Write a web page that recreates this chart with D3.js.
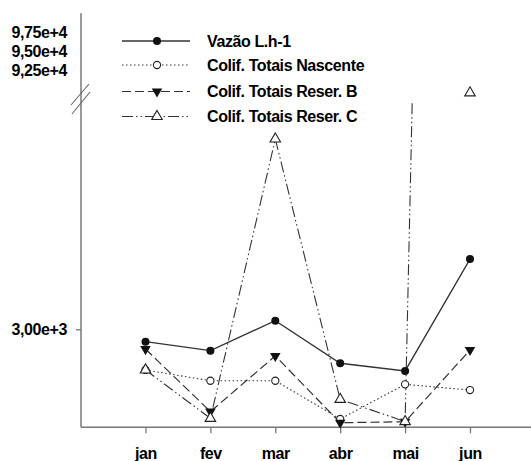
<!DOCTYPE html>
<html>
<head>
<meta charset="utf-8">
<script src="https://cdn.jsdelivr.net/npm/d3@7"></script>
<style>
  html, body { margin: 0; padding: 0; background: #fff; }
  svg text { font-family: "Liberation Sans", Arial, sans-serif; font-weight: bold; fill: #000; letter-spacing: -0.4px; }
</style>
</head>
<body>
<svg id="chart" width="531" height="461"></svg>
<script>
// ---- data ----
const months = ["jan", "fev", "mar", "abr", "mai", "jun"];
const vazao = [2620, 2345, 3265, 1960, 1725, 5150];
const nascente = [1755, 1425, 1425, 255, 1315, 1140];
const reserB = [2395, 480, 2185, 140, 170, 2365];
const reserC = [1755, 275, 8825, 855, 175, 89450];
const lowerTicks = [3000];
const upperTicks = [97500, 95000, 92500];
const seriesNames = ["Vazão L.h-1", "Colif. Totais Nascente", "Colif. Totais Reser. B", "Colif. Totais Reser. C"];

const fmt = v => v.toExponential(2).replace(".", ",");

const svg = d3.select("#chart");
const axisX = 81, axisBottom = 427.3, axisTop = 13.3;
const fontSize = "16px";

const x = d3.scalePoint().domain(months).range([145.5, 470]);
const yLow = d3.scaleLinear().domain([0, 10000]).range([axisBottom, 100.6]);
const yUp = d3.scaleLinear().domain([92500, 97500]).range([70, 32.5]);
const yMark = v => v > 10000 ? yUp(v) : yLow(v);

const series = [
  { name: seriesNames[0], values: vazao, dash: null, width: 1.3, marker: "fcircle" },
  { name: seriesNames[1], values: nascente, dash: "1.5,2.5", width: 1.1, marker: "ocircle" },
  { name: seriesNames[2], values: reserB, dash: "9,4", width: 1.2, marker: "dtri" },
  { name: seriesNames[3], values: reserC, dash: "11,3,1.5,3,1.5,3", width: 1.1, marker: "utri" }
];

const lineColor = "#333";

function drawMarker(g, type, cx, cy) {
  if (type === "fcircle") {
    g.append("circle").attr("cx", cx).attr("cy", cy).attr("r", 4).attr("fill", "#111");
  } else if (type === "ocircle") {
    g.append("circle").attr("cx", cx).attr("cy", cy).attr("r", 3.6)
      .attr("fill", "#fff").attr("stroke", "#222").attr("stroke-width", 1.1);
  } else if (type === "dtri") {
    g.append("path").attr("d", d3.symbol(d3.symbolTriangle, 48)())
      .attr("transform", `translate(${cx},${cy}) rotate(180)`).attr("fill", "#111");
  } else {
    g.append("path").attr("d", d3.symbol(d3.symbolTriangle, 48)())
      .attr("transform", `translate(${cx},${cy})`)
      .attr("fill", "#fff").attr("stroke", "#222").attr("stroke-width", 1.1);
  }
}

// clip for lower segment lines
svg.append("clipPath").attr("id", "lowclip")
  .append("rect").attr("x", axisX).attr("y", yLow(10000)).attr("width", 531 - axisX).attr("height", axisBottom - yLow(10000) + 5);

// axes
const xAxis = svg.append("g").attr("transform", `translate(0,${axisBottom})`)
  .call(d3.axisBottom(x).tickSize(6).tickPadding(14));
xAxis.select(".domain").remove();
xAxis.selectAll(".tick line").attr("stroke", "#777").attr("stroke-width", 1.3);
xAxis.selectAll("text").style("font-size", fontSize).attr("fill", "#000");
svg.append("line").attr("x1", axisX).attr("x2", 531).attr("y1", axisBottom).attr("y2", axisBottom)
  .attr("stroke", "#777").attr("stroke-width", 1.5);

const yAxisLow = svg.append("g").attr("transform", `translate(${axisX},0)`)
  .call(d3.axisLeft(yLow).tickValues(lowerTicks).tickFormat(fmt).tickSize(5).tickPadding(9));
yAxisLow.select(".domain").remove();
yAxisLow.selectAll(".tick line").attr("stroke", "#777").attr("stroke-width", 1.3);
yAxisLow.selectAll("text").style("font-size", fontSize).attr("fill", "#000");

const yAxisUp = svg.append("g").attr("transform", `translate(${axisX},0)`)
  .call(d3.axisLeft(yUp).tickValues(upperTicks).tickFormat(fmt).tickSize(0).tickPadding(14));
yAxisUp.select(".domain").remove();
yAxisUp.selectAll("text").style("font-size", fontSize).attr("fill", "#000");

svg.append("line").attr("x1", axisX).attr("x2", axisX).attr("y1", axisTop).attr("y2", axisBottom)
  .attr("stroke", "#777").attr("stroke-width", 1.5);

// break marks
svg.append("line").attr("x1", 71).attr("y1", 105).attr("x2", 89).attr("y2", 84)
  .attr("stroke", "#666").attr("stroke-width", 1.1);
svg.append("line").attr("x1", 72).attr("y1", 114).attr("x2", 90).attr("y2", 92)
  .attr("stroke", "#666").attr("stroke-width", 1.1);

// lines
const lineGen = d3.line().x((d, i) => x(months[i])).y(d => yLow(d));
const plot = svg.append("g");
series.forEach(s => {
  plot.append("path").datum(s.values)
    .attr("d", lineGen)
    .attr("clip-path", "url(#lowclip)")
    .attr("fill", "none").attr("stroke", lineColor).attr("stroke-width", s.width)
    .attr("stroke-dasharray", s.dash);
});
series.forEach(s => {
  s.values.forEach((v, i) => drawMarker(plot, s.marker, x(months[i]), yMark(v)));
});

// legend
const legY = [41, 65, 91.5, 116.5];
const leg = svg.append("g");
series.forEach((s, i) => {
  leg.append("line").attr("x1", 122).attr("x2", 190).attr("y1", legY[i]).attr("y2", legY[i])
    .attr("stroke", lineColor).attr("stroke-width", s.width).attr("stroke-dasharray", s.dash);
  drawMarker(leg, s.marker, 157, legY[i]);
  leg.append("text").attr("x", 207).attr("y", legY[i] + 5.5).style("font-size", fontSize).text(s.name);
});
</script>
</body>
</html>
